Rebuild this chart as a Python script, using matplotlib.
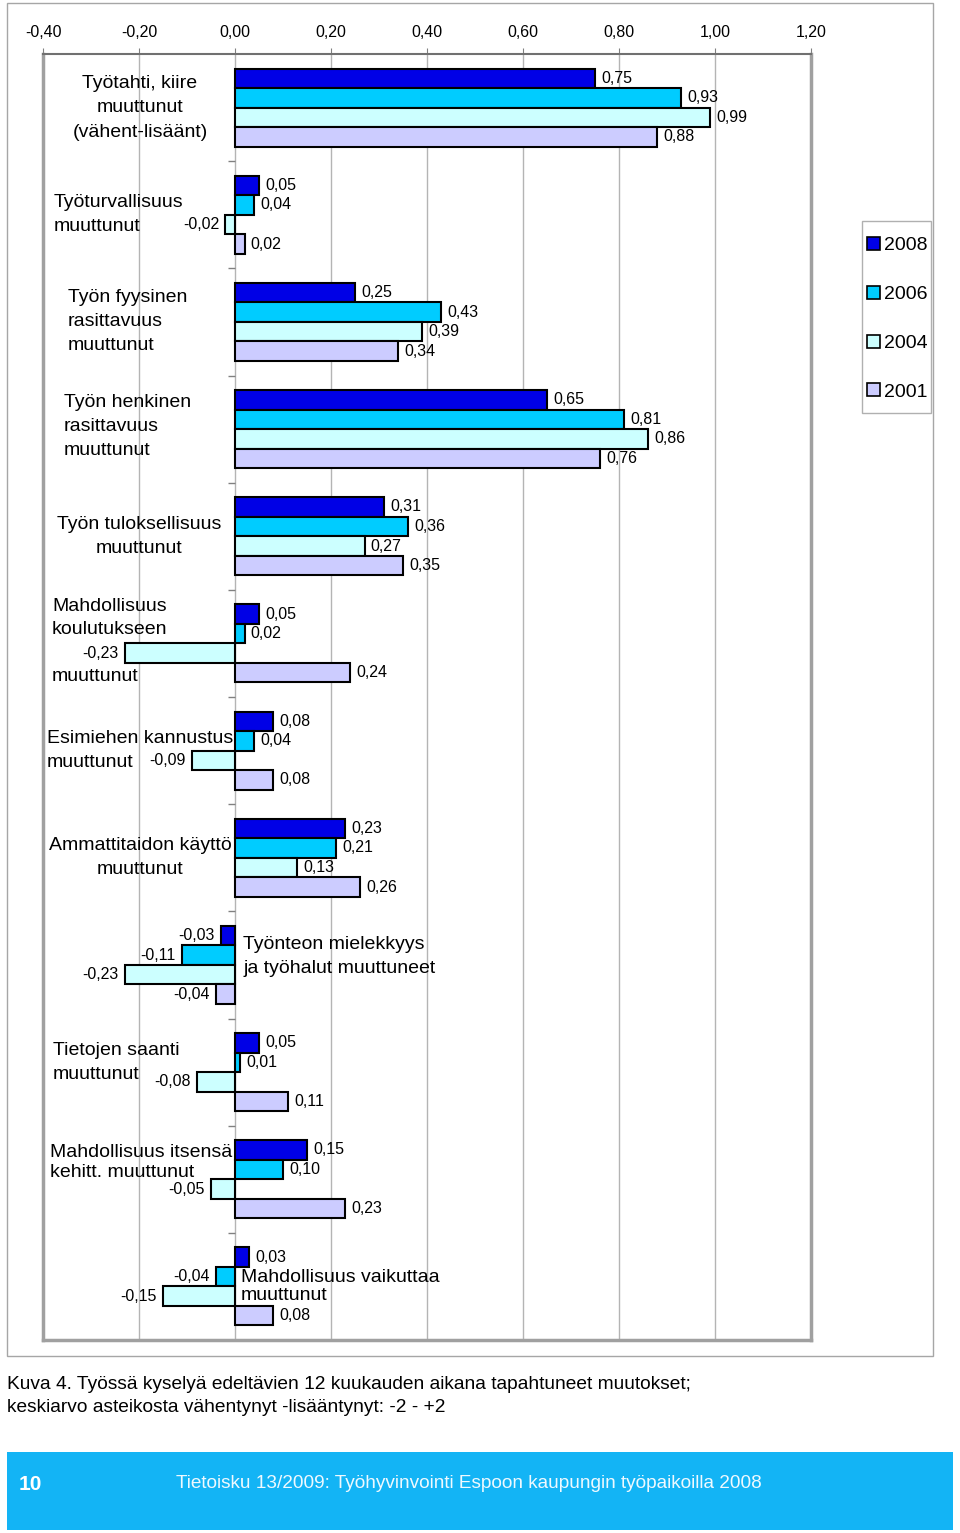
import numpy as np
import matplotlib
matplotlib.use("Agg")
import matplotlib.pyplot as plt
from matplotlib.patches import Rectangle, Patch

plt.rcParams['font.family'] = ['Liberation Sans', 'DejaVu Sans']

# data
categories = [
    "Työtahti, kiire\nmuuttunut\n(vähent-lisäänt)",
    "Työturvallisuus\nmuuttunut",
    "Työn fyysinen\nrasittavuus\nmuuttunut",
    "Työn henkinen\nrasittavuus\nmuuttunut",
    "Työn tuloksellisuus\nmuuttunut",
    "Mahdollisuus\nkoulutukseen\n\nmuuttunut",
    "Esimiehen kannustus\nmuuttunut",
    "Ammattitaidon käyttö\nmuuttunut",
    "Työnteon mielekkyys\nja työhalut muuttuneet",
    "Tietojen saanti\nmuuttunut",
    "Mahdollisuus itsensä\nkehitt. muuttunut",
    "Mahdollisuus vaikuttaa\nmuuttunut",
]
years = ["2008", "2006", "2004", "2001"]
v2008 = [0.75, 0.05, 0.25, 0.65, 0.31, 0.05, 0.08, 0.23, -0.03, 0.05, 0.15, 0.03]
v2006 = [0.93, 0.04, 0.43, 0.81, 0.36, 0.02, 0.04, 0.21, -0.11, 0.01, 0.10, -0.04]
v2004 = [0.99, -0.02, 0.39, 0.86, 0.27, -0.23, -0.09, 0.13, -0.23, -0.08, -0.05, -0.15]
v2001 = [0.88, 0.02, 0.34, 0.76, 0.35, 0.24, 0.08, 0.26, -0.04, 0.11, 0.23, 0.08]
x_ticks = [-0.40, -0.20, 0.00, 0.20, 0.40, 0.60, 0.80, 1.00, 1.20]

caption = ("Kuva 4. Työssä kyselyä edeltävien 12 kuukauden aikana tapahtuneet muutokset;\n"
           "keskiarvo asteikosta vähentynyt -lisääntynyt: -2 - +2")
footer_num = "10"
footer_text = "Tietoisku 13/2009: Työhyvinvointi Espoon kaupungin työpaikoilla 2008"

series = [v2008, v2006, v2004, v2001]
colors = ["#0000e6", "#00ccff", "#ccffff", "#ccccff"]

# label placement (x in data units, y shift in category units, alignment, line step in px)
label_pos = [
    (-0.198, 0.0, "center", 24.5),
    (-0.377, 0.0, "left", 24),
    (-0.348, 0.0, "left", 24),
    (-0.356, -0.02, "left", 24),
    (-0.200, 0.0, "center", 24),
    (-0.381, -0.02, "left", 23.4),
    (-0.392, 0.0, "left", 24.5),
    (-0.198, 0.0, "center", 24),
    (0.017, -0.075, "left", 24),
    (-0.379, -0.085, "left", 24),
    (-0.385, -0.16, "left", 20),
    (0.0125, 0.0, "left", 18),
]

W, H = 960, 1533
fig = plt.figure(figsize=(W / 100, H / 100), dpi=100)
ax = fig.add_axes([43 / W, 1 - 1340 / H, 768 / W, 1286 / H])

n = len(categories)
y = np.arange(n)
band_px = 1286 / n
h = 0.182
for k, (vals, col, yr) in enumerate(zip(series, colors, years)):
    pos = y + (k - 1.5) * h
    ax.barh(pos, vals, height=h, color=col, edgecolor="black", linewidth=1.5,
            label=yr, zorder=3)
    for yy, v in zip(pos, vals):
        txt = f"{v:.2f}".replace(".", ",")
        if v >= 0:
            ax.text(v + 0.013, yy, txt, ha="left", va="center", fontsize=11.5, zorder=4)
        else:
            ax.text(v - 0.013, yy, txt, ha="right", va="center", fontsize=11.5, zorder=4)

# category labels, one text per line
for i, (lab, (lx, dy, ha, step)) in enumerate(zip(categories, label_pos)):
    lines = lab.split("\n")
    m = len(lines)
    for j, line in enumerate(lines):
        if not line:
            continue
        yl = i + dy + (j - (m - 1) / 2) * step / band_px
        ax.text(lx, yl, line, ha=ha, va="center", fontsize=14, zorder=5)

# small tick marks on the zero axis between categories
ax.hlines(np.arange(n - 1) + 0.5, -0.014, 0, color="#808080", lw=1, zorder=2)

ax.set_xlim(-0.40, 1.20)
ax.set_ylim(n - 0.5, -0.5)
ax.xaxis.tick_top()
ax.set_xticks(x_ticks)
ax.set_xticklabels([f"{t:.2f}".replace(".", ",") for t in x_ticks], fontsize=11.5)
ax.tick_params(axis="x", length=4, color="#808080", pad=6)
ax.set_yticks([])
ax.grid(axis="x", color="#b4b4b4", lw=1, zorder=0)
ax.set_axisbelow(True)
ax.spines["top"].set_color("#707070")
ax.spines["top"].set_linewidth(1.5)
for s in ["left", "right", "bottom"]:
    ax.spines[s].set_color("#a0a0a0")
    ax.spines[s].set_linewidth(2.5)

# legend: entries without frame, box drawn separately
handles = [Patch(facecolor=c, edgecolor="black", linewidth=1.2) for c in colors]
fig.legend(handles, years, loc="upper left", bbox_to_anchor=(867 / W, 1 - 237 / H),
           fontsize=14, frameon=False, handlelength=0.65, handleheight=0.65,
           handletextpad=0.2, labelspacing=1.62, borderpad=0, borderaxespad=0)
fig.patches.append(Rectangle((862 / W, 1 - 413 / H), 69 / W, 192 / H, transform=fig.transFigure,
                             fill=False, edgecolor="#b0b0b0", lw=1))

# outer frame around the chart
fig.patches.append(Rectangle((7 / W, 1 - 1356 / H), 926 / W, 1353 / H, transform=fig.transFigure,
                             fill=False, edgecolor="#a6a6a6", lw=1))

fig.text(7 / W, 1 - 1396 / H, caption, ha="left", va="center", fontsize=13.8, linespacing=1.4)

fig.patches.append(Rectangle((7 / W, 1 - 1530 / H), 946 / W, 78 / H, transform=fig.transFigure,
                             facecolor="#13b4f5", edgecolor="none"))
fig.text(19 / W, 1 - 1484 / H, footer_num, ha="left", va="center", fontsize=15,
         fontweight="bold", color="white")
fig.text(176 / W, 1 - 1483 / H, footer_text, ha="left", va="center", fontsize=13.7,
         color="#eef9ff")

fig.savefig("out.png", dpi=100)
